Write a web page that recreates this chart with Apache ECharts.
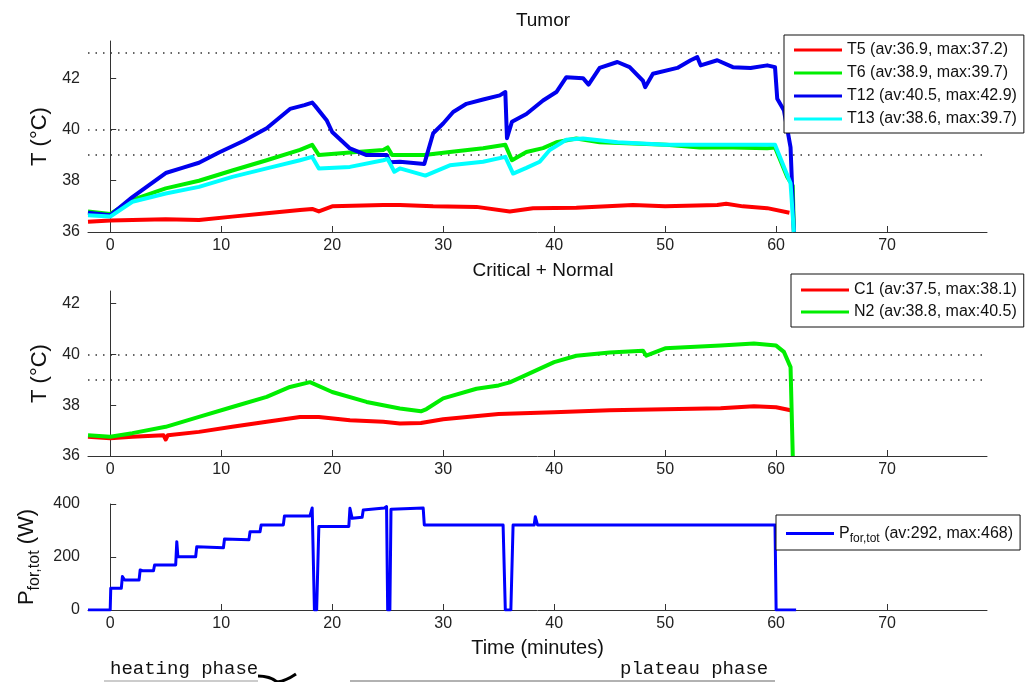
<!DOCTYPE html>
<html>
<head>
<meta charset="utf-8">
<script src="https://cdn.jsdelivr.net/npm/echarts@6/dist/echarts.min.js"></script>
<style>html,body{margin:0;padding:0;background:#fff}#c{width:1028px;height:682px}</style>
</head>
<body>
<div id="c"></div>
<script>
// ---------- DATA ----------
const xTicks = [0, 10, 20, 30, 40, 50, 60, 70];
const tempTicksTop = [36, 38, 40, 42];
const tempTicksMid = [36, 38, 40, 42];
const powerTicks = [0, 200, 400];
const refLinesTop = [43, 40, 39];
const refLinesMid = [40, 39];

const labelT5 = 'T5 (av:36.9, max:37.2)';
const labelT6 = 'T6 (av:38.9, max:39.7)';
const labelT12 = 'T12 (av:40.5, max:42.9)';
const labelT13 = 'T13 (av:38.6, max:39.7)';
const labelC1 = 'C1 (av:37.5, max:38.1)';
const labelN2 = 'N2 (av:38.8, max:40.5)';
const labelP = 'Pfortot';

const tT5 = [-2, 0, 2, 5, 8, 11, 14.1, 17.1, 18.2, 18.8, 20, 24.6, 26.1, 29.1, 33, 36, 38.1, 42, 47.1, 50, 54.7, 55.5, 57, 59.2, 61.2];
const vT5 = [36.4, 36.45, 36.47, 36.5, 36.47, 36.6, 36.73, 36.86, 36.9, 36.8, 37.0, 37.05, 37.05, 37.0, 36.98, 36.8, 36.93, 36.95, 37.05, 37.0, 37.05, 37.1, 37.0, 36.93, 36.75];

const tT6 = [-2, 0, 2, 5, 8, 11, 14.1, 17.1, 18.2, 18.8, 21.6, 24.6, 25.0, 25.4, 28.3, 30.6, 33.6, 35.6, 36.2, 37.5, 39, 40.2, 42, 44.1, 47.1, 50.1, 53.1, 56.1, 59.2, 59.9, 61.0, 61.5, 61.6];
const vT6 = [36.8, 36.7, 37.25, 37.7, 38.0, 38.4, 38.8, 39.2, 39.4, 39.0, 39.1, 39.2, 39.3, 39.0, 39.0, 39.12, 39.27, 39.4, 38.8, 39.12, 39.27, 39.5, 39.65, 39.5, 39.45, 39.4, 39.3, 39.3, 39.27, 39.3, 38.15, 37.8, 36.0];

const tT12 = [-2, 0, 2, 3.5, 5, 6.5, 8, 9.8, 12, 14.1, 16.2, 17.5, 18.2, 18.5, 19.5, 20, 21.6, 23.1, 24.9, 25.2, 26.1, 28.3, 29.1, 30, 30.9, 32.1, 33.6, 35.1, 35.6, 35.75, 36.2, 37.5, 39, 40.2, 41.1, 42.6, 43.1, 44.1, 45.7, 46.8, 48.0, 48.2, 48.9, 51.1, 52.3, 52.9, 53.2, 54.7, 56.1, 57.7, 59.2, 59.9, 60.1, 60.7, 61.3, 61.6];
const vT12 = [36.75, 36.65, 37.36, 37.83, 38.3, 38.5, 38.7, 39.1, 39.55, 40.05, 40.8, 40.95, 41.05, 40.9, 40.36, 39.9, 39.26, 39.0, 39.0, 38.72, 38.74, 38.65, 39.85, 40.23, 40.68, 41.0, 41.17, 41.33, 41.46, 39.66, 40.3, 40.6, 41.13, 41.46, 42.04, 42.0, 41.75, 42.4, 42.63, 42.43, 41.9, 41.65, 42.17, 42.4, 42.7, 42.82, 42.5, 42.7, 42.43, 42.4, 42.5, 42.43, 41.2, 40.75, 39.3, 36.0];

const tT13 = [-2, 0, 2, 5, 8, 11, 14.1, 17.1, 18.2, 18.8, 21.6, 24.6, 25.0, 25.6, 26.1, 28.4, 30.6, 33.6, 35.6, 36.3, 37.5, 38.7, 39.6, 41.1, 42.6, 45.7, 50.1, 54.7, 59.2, 59.9, 61.3, 61.6];
const vT13 = [36.65, 36.6, 37.18, 37.5, 37.76, 38.15, 38.48, 38.8, 38.93, 38.48, 38.54, 38.8, 38.85, 38.35, 38.48, 38.2, 38.6, 38.74, 38.93, 38.28, 38.5, 38.74, 39.2, 39.6, 39.65, 39.5, 39.4, 39.4, 39.4, 39.4, 37.9, 36.0];

const tC1 = [-2, 0, 2, 4.8, 5, 5.2, 8, 11, 14.1, 17.1, 18.8, 21.6, 24.6, 26.1, 28, 30, 35, 40, 45, 50, 55, 58, 60, 61.3];
const vC1 = [36.76, 36.7, 36.76, 36.82, 36.65, 36.82, 36.95, 37.15, 37.35, 37.54, 37.54, 37.41, 37.35, 37.28, 37.3, 37.45, 37.65, 37.72, 37.8, 37.84, 37.88, 37.96, 37.92, 37.8];

const tN2 = [-2, 0, 2, 5, 8, 11, 14.1, 16.2, 18, 20, 23.1, 26.1, 28, 28.5, 30, 33, 35, 36, 37, 40, 42, 45, 48, 48.3, 50, 55, 58, 60, 60.7, 61.3, 61.5];
const vN2 = [36.82, 36.76, 36.9, 37.15, 37.54, 37.93, 38.33, 38.72, 38.91, 38.52, 38.13, 37.87, 37.76, 37.85, 38.27, 38.65, 38.78, 38.9, 39.1, 39.7, 39.95, 40.08, 40.15, 39.95, 40.24, 40.35, 40.43, 40.35, 40.1, 39.5, 36.0];

const tP = [-2, 0, 0.05, 1.0, 1.1, 1.3, 2.6, 2.7, 2.9, 3.9, 4.0, 5.9, 6.0, 6.1, 7.7, 7.8, 10.2, 10.3, 12.5, 12.6, 13.5, 13.6, 15.6, 15.7, 18.0, 18.2, 18.4, 18.6, 18.8, 21.5, 21.6, 21.8, 22.7, 22.8, 24.7, 24.9, 25.0, 25.2, 25.3, 28.2, 28.3, 35.4, 35.6, 36.1, 36.3, 38.2, 38.3, 38.5, 59.9, 60.0, 61.8];
const vP = [0, 0, 82, 82, 126, 113, 113, 151, 148, 148, 170, 170, 258, 201, 201, 239, 235, 268, 265, 295, 295, 321, 321, 355, 355, 385, 0, 0, 315, 315, 384, 346, 350, 377, 385, 390, 0, 0, 380, 385, 321, 321, 0, 0, 321, 321, 352, 321, 321, 0, 0];

// ---------- CHART ----------
const FONT = 'Liberation Sans, Arial, Helvetica, sans-serif';
const AX = '#333';
const pairs = (t, v) => t.map((x, i) => [x, v[i]]);

function xAxis(gi, withName) {
  const a = {
    type: 'value', gridIndex: gi, min: -2, max: 79,
    axisLine: { show: true, onZero: false, lineStyle: { color: AX, width: 1 } },
    axisTick: { show: true, inside: true, length: 6, customValues: xTicks, lineStyle: { color: AX } },
    axisLabel: { customValues: xTicks, fontSize: 16, color: '#222', margin: 6, fontFamily: FONT },
    splitLine: { show: false }
  };
  if (withName) {
    a.name = 'Time (minutes)';
    a.nameLocation = 'middle';
    a.nameGap = 28;
    a.nameTextStyle = { fontSize: 20, color: '#111', fontFamily: FONT };
  }
  return a;
}
function yAxis(gi, min, max, ticks, name, nameStyle) {
  return {
    type: 'value', gridIndex: gi, min: min, max: max,
    axisLine: { show: true, lineStyle: { color: AX, width: 1 } },
    axisTick: { show: true, inside: true, length: 6, customValues: ticks, lineStyle: { color: AX } },
    axisLabel: { customValues: ticks, fontSize: 16, color: '#222', margin: 8, fontFamily: FONT },
    splitLine: { show: false },
    name: name, nameLocation: 'middle', nameRotate: 90,
    nameGap: nameStyle.gap,
    nameTextStyle: nameStyle.style
  };
}
function line(name, gi, t, v, color, w, refs) {
  const s = {
    name: name, type: 'line', xAxisIndex: gi, yAxisIndex: gi,
    data: pairs(t, v), showSymbol: false, symbol: 'none',
    lineStyle: { width: w, color: color, join: 'round' }, itemStyle: { color: color },
    animation: false, silent: true, z: 3
  };
  if (refs) {
    s.markLine = {
      silent: true, symbol: 'none', animation: false, z: 1,
      label: { show: false },
      lineStyle: { type: [1.5, 6], color: '#333', width: 1.5 },
      data: refs.map(r => ({ yAxis: r }))
    };
  }
  return s;
}
function legend(names, left, top, pad, gap) {
  return {
    data: names, orient: 'vertical', left: left, top: top, z: 50,
    borderColor: '#111', borderWidth: 1, backgroundColor: '#fff', borderRadius: 0,
    padding: pad, itemWidth: 48, itemHeight: 3, itemGap: gap, icon: 'rect',
    selectedMode: false,
    textStyle: { fontSize: 16, color: '#111', fontFamily: FONT }
  };
}

const chart = echarts.init(document.getElementById('c'), null, { renderer: 'canvas' });
const bottomLegend = legend([labelP], 776, 515, [7, 7, 5, 10], 6);
bottomLegend.formatter = () => '{p|P}{s|for,tot}{p| (av:292, max:468)}';
bottomLegend.textStyle.rich = {
  p: { fontSize: 16, fontFamily: FONT, color: '#111', lineHeight: 22, verticalAlign: 'middle' },
  s: { fontSize: 12, fontFamily: FONT, color: '#111', lineHeight: 22, padding: [11, 0, 0, 0], verticalAlign: 'middle' }
};

chart.setOption({
  animation: false,
  backgroundColor: '#fff',
  title: [
    { text: 'Tumor', left: 538, top: 6, textAlign: 'center', textStyle: { fontSize: 19, fontWeight: 'normal', color: '#111', fontFamily: FONT } },
    { text: 'Critical + Normal', left: 538, top: 256, textAlign: 'center', textStyle: { fontSize: 19, fontWeight: 'normal', color: '#111', fontFamily: FONT } }
  ],
  grid: [
    { left: 88, top: 41, width: 899, height: 191 },
    { left: 88, top: 291, width: 899, height: 165 },
    { left: 88, top: 504, width: 899, height: 106 }
  ],
  xAxis: [xAxis(0, false), xAxis(1, false), xAxis(2, true)],
  yAxis: [
    yAxis(0, 36, 43.45, tempTicksTop, 'T (°C)', { gap: 32, style: { fontSize: 22, color: '#111', fontFamily: FONT } }),
    yAxis(1, 36, 42.5, tempTicksMid, 'T (°C)', { gap: 32, style: { fontSize: 22, color: '#111', fontFamily: FONT } }),
    yAxis(2, 0, 400, powerTicks, '{p|P}{s|for,tot}{p| (W)}', { gap: 40, style: {
      fontFamily: FONT, color: '#111',
      rich: {
        p: { fontSize: 22, fontFamily: FONT, color: '#111', lineHeight: 28, verticalAlign: 'middle' },
        s: { fontSize: 16, fontFamily: FONT, color: '#111', lineHeight: 28, padding: [14, 0, 0, 0], verticalAlign: 'middle' }
      } } })
  ],
  legend: [
    legend([labelT5, labelT6, labelT12, labelT13], 784, 35, [7, 7, 6, 10], 7),
    legend([labelC1, labelN2], 791, 274, [8, 7, 7, 10], 6),
    bottomLegend
  ],
  series: [
    line(labelT5, 0, tT5, vT5, '#ff0000', 4, refLinesTop),
    line(labelT6, 0, tT6, vT6, '#00ee00', 4),
    line(labelT12, 0, tT12, vT12, '#0000ee', 4),
    line(labelT13, 0, tT13, vT13, '#00ffff', 4),
    line(labelC1, 1, tC1, vC1, '#ff0000', 4, refLinesMid),
    line(labelN2, 1, tN2, vN2, '#00ee00', 4),
    line(labelP, 2, tP, vP, '#0000ff', 3)
  ],
  graphic: [
    { type: 'text', left: 110, top: 659, style: { text: 'heating phase', fontSize: 19, fontFamily: 'Liberation Mono, Courier New, monospace', fill: '#111' } },
    { type: 'text', left: 620, top: 659, style: { text: 'plateau phase', fontSize: 19, fontFamily: 'Liberation Mono, Courier New, monospace', fill: '#111' } },
    { type: 'line', shape: { x1: 104, y1: 681, x2: 258, y2: 681 }, style: { stroke: '#bbb', lineWidth: 1.5 } },
    { type: 'line', shape: { x1: 350, y1: 681, x2: 775, y2: 681 }, style: { stroke: '#999', lineWidth: 1.5 } },
    { type: 'bezierCurve', shape: { x1: 258, y1: 676, x2: 277, y2: 682, cpx1: 270, cpy1: 676 }, style: { stroke: '#000', lineWidth: 3, fill: null } },
    { type: 'bezierCurve', shape: { x1: 277, y1: 682, x2: 296, y2: 674, cpx1: 286, cpy1: 681 }, style: { stroke: '#000', lineWidth: 3, fill: null } }
  ]
});
</script>
</body>
</html>
